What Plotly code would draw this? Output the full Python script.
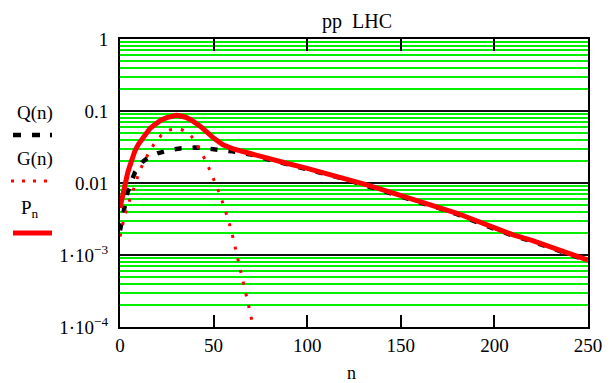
import plotly.graph_objects as go

# ---- data ----
n_P = [0, 1, 2, 3, 4, 5, 6, 7, 8, 10, 12, 14, 16, 18, 20, 22, 25, 28, 30, 32, 35, 38, 40, 43, 46, 50, 55, 60,
       70, 80, 90, 100, 110, 120, 130, 140, 150, 160, 170, 180, 190, 200, 210, 220, 230, 240, 250]
P_n = [0.0045, 0.0062, 0.0085, 0.0108, 0.0135, 0.0165, 0.020, 0.024, 0.028, 0.035, 0.042, 0.050, 0.057, 0.063,
       0.069, 0.075, 0.081, 0.086, 0.087, 0.086, 0.082, 0.075, 0.070, 0.061, 0.052, 0.042, 0.034, 0.030,
       0.0255, 0.0215, 0.0185, 0.0160, 0.0137, 0.0117, 0.0097, 0.0081, 0.0068, 0.0056, 0.0046, 0.0038,
       0.0030, 0.0024, 0.0019, 0.0016, 0.0013, 0.00105, 0.00085]

n_Q = [0, 1, 2, 3, 4, 5, 6, 8, 10, 12, 14, 16, 18, 20, 24, 28, 32, 36, 40, 44, 48, 52, 56, 60, 65, 70,
       80, 90, 100, 110, 120, 130, 140, 150, 160, 170, 180, 190, 200, 210, 220, 230, 240, 250]
Q_n = [0.0022, 0.0030, 0.0045, 0.0060, 0.0075, 0.0085, 0.0105, 0.0140, 0.0170, 0.0195, 0.0215, 0.0232,
       0.0246, 0.0258, 0.0277, 0.0292, 0.0302, 0.0308, 0.0310, 0.0307, 0.0300, 0.0292, 0.0283, 0.0275,
       0.0262, 0.0248, 0.0210, 0.0180, 0.0156, 0.0133, 0.0114, 0.0094, 0.0079, 0.0066, 0.0054, 0.0045,
       0.0037, 0.0029, 0.0023, 0.00185, 0.00155, 0.00126, 0.00102, 0.00083]

n_G = [0, 1, 2, 3, 4, 6, 8, 10, 12, 14, 16, 18, 20, 22, 24, 27, 30, 33, 36, 38, 40, 42, 44, 46, 48, 50,
       52, 54, 56, 58, 60, 62, 64, 66, 68, 70, 72]
G_n = [0.0018, 0.0024, 0.0031, 0.0038, 0.0048, 0.0066, 0.0095, 0.0135, 0.018, 0.023, 0.028, 0.034, 0.040,
       0.046, 0.051, 0.055, 0.057, 0.055, 0.050, 0.045, 0.038, 0.031, 0.025, 0.020, 0.015, 0.0115, 0.0085,
       0.0062, 0.0043, 0.0030, 0.0019, 0.0011, 0.00068, 0.00040, 0.00024, 0.00014, 0.00008]

x_ticks = [0, 50, 100, 150, 200, 250]
y_ticks = [1e-4, 1e-3, 0.01, 0.1, 1]
y_ticktext = ["1\u00b710<sup>\u22124</sup>", "1\u00b710<sup>\u22123</sup>", "0.01", "0.1", "1"]
minor_y = [m * 10.0 ** e for e in range(-4, 0) for m in range(2, 10)]

FONT = "Times New Roman, Liberation Serif, DejaVu Serif, serif"
W, H = 616, 383
L, R, T, B = 120, 28, 39, 56
PW, PH = W - L - R, H - T - B


def px(x):
    return (x - L) / PW


def py(y):
    return (H - B - y) / PH


fig = go.Figure()
fig.add_trace(go.Scatter(x=n_Q, y=Q_n, mode="lines", name="Q(n)",
                         line=dict(color="black", width=4.5, dash="7px,11px")))
fig.add_trace(go.Scatter(x=n_G, y=G_n, mode="lines", name="G(n)",
                         line=dict(color="#ff0000", width=3, dash="3px,9px")))
fig.add_trace(go.Scatter(x=n_P, y=P_n, mode="lines", name="P_n",
                         line=dict(color="#ff0000", width=5)))

annotations = [
    dict(text="pp\u00a0\u00a0LHC", x=px(357), y=py(21), font=dict(family=FONT, size=20)),
    dict(text="n", x=px(351), y=py(373), font=dict(family=FONT, size=18)),
    dict(text="Q(n)", x=px(35), y=py(113), font=dict(family=FONT, size=19)),
    dict(text="G(n)", x=px(35), y=py(159), font=dict(family=FONT, size=19)),
    dict(text="P<sub>n</sub>", x=px(30), y=py(209), font=dict(family=FONT, size=19)),
]
for a in annotations:
    a.update(xref="paper", yref="paper", showarrow=False, xanchor="center", yanchor="middle")

shapes = [
    dict(type="line", x0=px(13), x1=px(52), y0=py(135), y1=py(135),
         line=dict(color="black", width=4.5, dash="8px,11px,8px,10px,2px,10px")),
    dict(type="line", x0=px(11), x1=px(50), y0=py(181), y1=py(181),
         line=dict(color="#ff0000", width=3, dash="3px,8px")),
    dict(type="line", x0=px(13), x1=px(52), y0=py(233), y1=py(233),
         line=dict(color="#ff0000", width=5)),
]
for s in shapes:
    s.update(xref="paper", yref="paper")

fig.update_layout(
    width=W, height=H,
    margin=dict(l=L, r=R, t=T, b=B),
    paper_bgcolor="white", plot_bgcolor="white",
    showlegend=False,
    font=dict(family=FONT, size=18, color="black"),
    annotations=annotations,
    shapes=shapes,
    xaxis=dict(range=[0, 250], tickvals=x_ticks, showgrid=False, zeroline=False,
               showline=True, linecolor="black", linewidth=2, mirror="allticks",
               ticks="inside", ticklen=12, tickwidth=1.5, tickcolor="black",
               ticklabelstandoff=0, tickfont=dict(family=FONT, size=19)),
    yaxis=dict(type="log", range=[-4, 0], tickvals=y_ticks, ticktext=y_ticktext,
               showgrid=True, gridcolor="#111111", gridwidth=1.5, zeroline=False,
               showline=True, linecolor="black", linewidth=2, mirror=True,
               ticks="", ticklabelstandoff=6, tickfont=dict(family=FONT, size=19),
               minor=dict(tickmode="array", tickvals=minor_y, showgrid=True,
                          gridcolor="#00ee00", gridwidth=2, ticks="")),
)

fig.write_html("out.html")
